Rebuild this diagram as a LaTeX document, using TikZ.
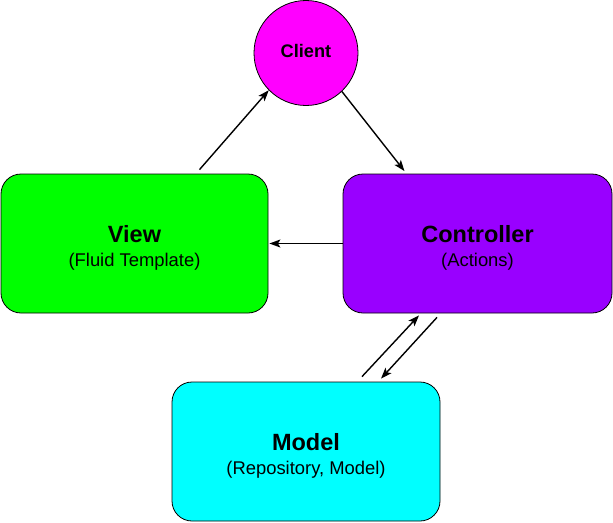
\documentclass[tikz,border=0pt]{standalone}
\usepackage{fontspec}
\setmainfont{Liberation Sans}
\usetikzlibrary{shapes.geometric,arrows.meta,calc}
\definecolor{viewgreen}{HTML}{00FF00}
\definecolor{ctrlpurple}{HTML}{9900FF}
\definecolor{modelcyan}{HTML}{00FFFF}
\definecolor{clientmag}{HTML}{FF00FF}
\tikzset{
  box/.style={draw=black, line width=0.8pt, rounded corners=20pt, minimum width=#1, minimum height=139pt, align=center, inner sep=0pt, font=\fontsize{18.4}{24}\selectfont},
  arr/.style={draw=black, line width=1.4pt, -{Stealth[length=11pt,width=8pt,inset=2.5pt]}},
  clientnode/.style={draw=black, line width=0.8pt, ellipse, minimum width=104pt, minimum height=105pt, inner sep=0pt, fill=clientmag, font=\fontsize{18.2}{22}\selectfont\bfseries, text depth=3.6pt}
}
\newcommand{\ttl}[1]{{\fontsize{23.5}{24}\selectfont\bfseries\rule{0pt}{25pt}#1}}
\begin{document}
\begin{tikzpicture}[x=1pt,y=-1pt]
  \useasboundingbox (0,0) rectangle (613,522);
  \node[clientnode] (client) at (306,53) {Client};
  \node[box=267pt, fill=viewgreen] (view) at (134.5,243.5) {\ttl{View}\\(Fluid Template)};
  \node[box=269pt, fill=ctrlpurple] (ctrl) at (477.5,243.5) {\ttl{Controller}\\(Actions)};
  \node[box=268pt, fill=modelcyan] (model) at (306,451.5) {\ttl{Model}\\(Repository, Model)};
  % connectors
  \draw[arr] ($(view.north)+(65,-4)$) -- (client.225);
  \draw[arr] (client.-47) -- ($(ctrl.north)+(-73,-2.5)$);
  \draw[arr] (ctrl.west) -- ($(view.east)+(1,0)$);
  \draw[arr] ($(model.north)+(56,-5)$) -- ($(ctrl.south)+(-58.5,2)$);
  \draw[arr] ($(ctrl.south)+(-40.5,4)$) -- ($(model.north)+(75,-3)$);
\end{tikzpicture}
\end{document}
